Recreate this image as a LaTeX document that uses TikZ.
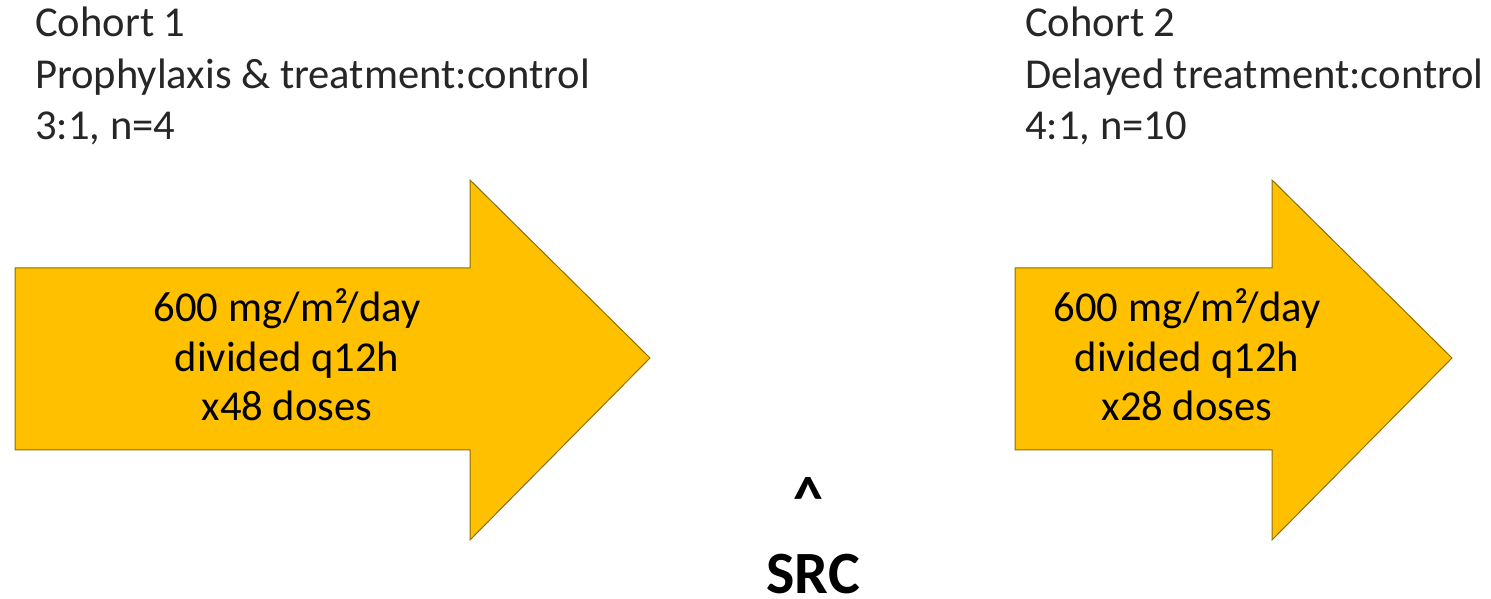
\documentclass[tikz,border=0pt]{standalone}
\usepackage{fontspec}
\setmainfont{Carlito}
\definecolor{arrowfill}{HTML}{FFC000}
\definecolor{arrowline}{HTML}{8C7000}
\tikzset{
  bigarrow/.style={fill=arrowfill, draw=arrowline, line width=1pt, line join=miter},
  lbl/.style={inner sep=0pt, font=\fontsize{42.6}{50}\selectfont, text=black!85},
  doselbl/.style={inner sep=0pt, font=\fontsize{42.6}{50}\selectfont, text=black},
  srclbl/.style={inner sep=0pt, font=\fontsize{60}{66}\selectfont\bfseries, text=black}
}
\begin{document}
\begin{tikzpicture}[x=1pt,y=1pt]
\useasboundingbox (0,0) rectangle (1491,599);
% left arrow
\draw[bigarrow] (15,331) -- (470,331) -- (470,419) -- (650,241) -- (470,59) -- (470,149) -- (15,149) -- cycle;
% right arrow
\draw[bigarrow] (1015,331) -- (1272,331) -- (1272,419) -- (1452,241) -- (1272,59) -- (1272,149) -- (1015,149) -- cycle;
% cohort 1 text
\node[lbl, anchor=base west] (c1a) at (35,562) {Cohort 1};
\node[lbl, anchor=base west] (c1b) at (35,510) {Prophylaxis \& treatment:control};
\node[lbl, anchor=base west] (c1c) at (35,459) {3:1, n=4};
% cohort 2 text
\node[lbl, anchor=base west] (c2a) at (1025,562) {Cohort 2};
\node[lbl, anchor=base west] (c2b) at (1025,510) {Delayed treatment:control};
\node[lbl, anchor=base west] (c2c) at (1025,459) {4:1, n=10};
% dose texts left
\node[doselbl, anchor=base] (d1a) at (287,277) {600 mg/m²/day};
\node[doselbl, anchor=base] (d1b) at (287,227) {divided q12h};
\node[doselbl, anchor=base] (d1c) at (287,178) {x48 doses};
% dose texts right
\node[doselbl, anchor=base] (d2a) at (1187,277) {600 mg/m²/day};
\node[doselbl, anchor=base] (d2b) at (1187,227) {divided q12h};
\node[doselbl, anchor=base] (d2c) at (1187,178) {x28 doses};
% SRC
\node[srclbl, anchor=base] (caret) at (808,80) {\^{}};
\node[srclbl, anchor=base] (src) at (813,5) {SRC};
\end{tikzpicture}
\end{document}
